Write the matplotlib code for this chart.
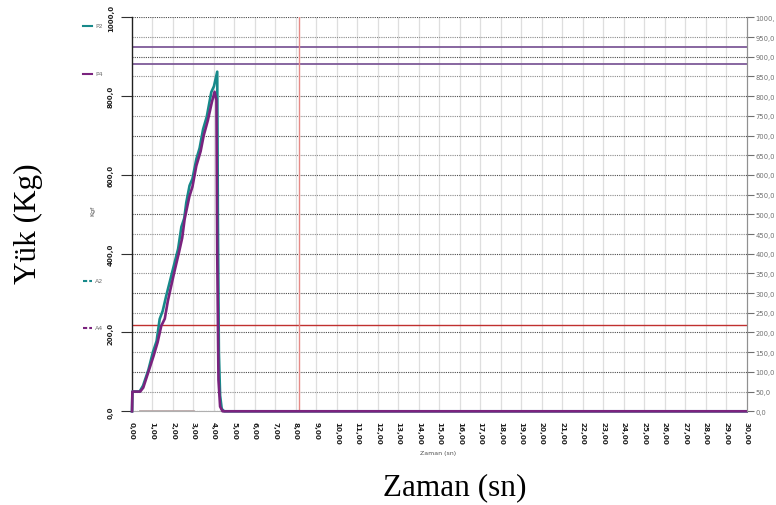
"""
    Yük - Zaman grafiği (P2 / P4 kanalları)
"""

import numpy as np
import matplotlib.pyplot as plt
from matplotlib.lines import Line2D

# P2 kanalı (teal)
time_p2 = [0.0, 0.02, 0.37, 0.54, 0.80, 1.02, 1.20, 1.35, 1.50, 1.67, 1.85, 2.00,
           2.25, 2.41, 2.55, 2.65, 2.81, 2.95, 3.14, 3.30, 3.47, 3.65, 3.87, 4.00,
           4.16, 4.19, 4.24, 4.30, 4.38, 4.50, 30.0]
load_p2 = [0, 50, 50, 65, 105, 150, 178, 234, 255, 293, 330, 361,
           412, 468, 490, 530, 573, 590, 640, 668, 716, 748, 810, 825,
           862, 500, 150, 40, 6, 0, 0]

# P4 kanalı (mor)
time_p4 = [0.0, 0.02, 0.40, 0.55, 0.80, 1.05, 1.25, 1.43, 1.60, 1.75, 1.90, 2.05,
           2.30, 2.45, 2.57, 2.80, 2.95, 3.14, 3.35, 3.50, 3.70, 3.90, 4.03,
           4.12, 4.16, 4.22, 4.30, 4.42, 30.0]
load_p4 = [0, 50, 50, 60, 100, 140, 175, 217, 235, 280, 315, 350,
           405, 440, 488, 545, 570, 623, 660, 700, 738, 785, 811,
           790, 400, 80, 12, 0, 0]

# sıfırdaki soluk kanal
time_a = [0.4, 3.0]
load_a = [0, 0]

# referans çizgileri
limit_lines = [925, 882]
red_level = 219
red_time = 8.15

x_ticks = np.arange(0, 31, 1)
x_labels = ['%d,00' % t for t in x_ticks]
left_ticks = np.arange(0, 1001, 200)
left_labels = ['%d,0' % v for v in left_ticks]
right_ticks = np.arange(0, 1001, 50)
right_labels = ['%d,0' % v for v in right_ticks]
right_labels[-1] = '1000,'   # kesik görünüyor

legend_names = ['P2', 'P4', 'A2', 'A4']

teal = '#17898a'
purple = '#7a237e'


def main():
    fig = plt.figure(figsize=(7.76, 5.06), dpi=100)
    ax = fig.add_axes([0.1701, 0.1852, 0.7921, 0.7786])

    ax.set_xlim(0, 30)
    ax.set_ylim(0, 1000)

    # grid
    for t in x_ticks[1:-1]:
        ax.axvline(t, color='#dedede', lw=0.9, zorder=0)
    for v in right_ticks:
        c = '#4a4a4a' if v % 100 == 0 else '#8a8a8a'
        ax.axhline(v, color=c, lw=0.8, ls=(0, (1, 1)), zorder=0)

    # reference lines
    for v in limit_lines:
        ax.axhline(v, color='#7e5a98', lw=1.3, zorder=2)
    ax.axhline(red_level, color='#c0302f', lw=1.0, zorder=2)
    ax.axvline(red_time, color='#e58a86', lw=1.0, zorder=2)

    # data
    ax.plot(time_a, load_a, color='#b9a8a8', lw=2.0, zorder=3)
    ax.plot(time_p2, load_p2, color=teal, lw=1.9, zorder=4, clip_on=False)
    ax.plot(time_p4, load_p4, color=purple, lw=1.9, zorder=5, clip_on=False)

    # spines
    ax.spines['top'].set_visible(False)
    ax.spines['left'].set_color('#202020')
    ax.spines['left'].set_linewidth(1.0)
    ax.spines['right'].set_color('#909090')
    ax.spines['right'].set_linewidth(0.8)
    ax.spines['bottom'].set_color('#b0b0b0')
    ax.spines['bottom'].set_linewidth(0.8)

    # x axis
    ax.set_xticks(x_ticks)
    ax.set_xticklabels(x_labels, rotation=-90, fontsize=5.2, fontweight='bold',
                       color='#202020')
    ax.set_xticks([0, 10, 20, 30], minor=True)
    ax.tick_params(axis='x', which='major', length=0, pad=7)
    ax.tick_params(axis='x', which='minor', length=4, color='#808080', width=0.8)

    # left axis
    ax.set_yticks(left_ticks)
    ax.set_yticklabels(left_labels, rotation=90, fontsize=5, fontweight='bold',
                       color='#202020', va='center')
    ax.tick_params(axis='y', which='major', length=8, width=0.8, color='#303030', pad=5)

    # right axis
    ax2 = ax.twinx()
    ax2.set_ylim(0, 1000)
    ax2.set_yticks(right_ticks)
    ax2.set_yticklabels(right_labels, fontsize=4.9, color='#707070')
    ax2.tick_params(axis='y', length=5, width=0.8, color='#707070', pad=1.5)
    for s in ['top', 'left', 'bottom']:
        ax2.spines[s].set_visible(False)
    ax2.spines['right'].set_color('#909090')

    # small labels from the instrument software
    fig.text(438 / 776, 1 - 453 / 506, 'Zaman (sn)', fontsize=4.5, color='#505050',
             ha='center', va='center')
    fig.text(93 / 776, 1 - 211 / 506, 'Kgf', fontsize=4.5, color='#505050',
             ha='center', va='center', rotation=90)

    # legend keys on the left
    key_y = [26.7, 75, 281.7, 329]
    key_color = [teal, purple, teal, purple]
    key_style = ['-', '-', '--', '--']
    for name, yy, c, s in zip(legend_names, key_y, key_color, key_style):
        fy = 1 - yy / 506
        fig.add_artist(Line2D([83 / 776, 92 / 776], [fy, fy], color=c, lw=1.5, ls=s,
                              dashes=(2, 1) if s == '--' else (None, None)))
        fig.text(95 / 776, fy, name, fontsize=4.5, color='#707070', va='center')

    # big document labels
    fig.text(455 / 776, 1 - 488 / 506, 'Zaman (sn)', family='Liberation Serif',
             fontsize=22.5, ha='center', va='center')
    fig.text(28 / 776, 1 - 224 / 506, 'Yük (Kg)', family='Liberation Serif',
             fontsize=22.5, ha='center', va='center', rotation=90)

    fig.savefig('out.png', dpi=100)


if __name__ == "__main__":
    main()
